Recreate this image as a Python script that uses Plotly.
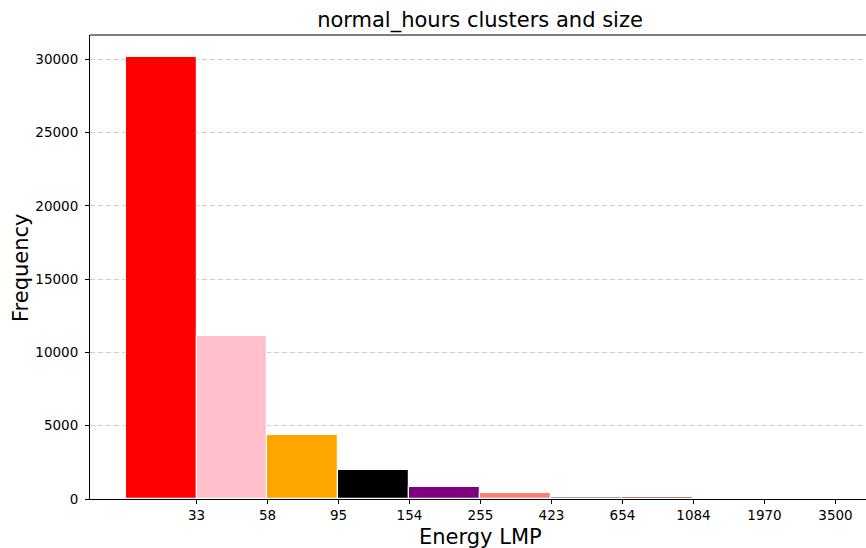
import plotly.graph_objects as go

tick_labels = ["33", "58", "95", "154", "255", "423", "654", "1084", "1970", "3500"]
counts = [30140, 11120, 4380, 1980, 810, 415, 115, 125, 8, 5]
colors = ["red", "pink", "orange", "black", "purple", "salmon", "gray", "sienna", "darkgreen", "navy"]
y_ticks = [0, 5000, 10000, 15000, 20000, 25000, 30000]

bar_x = [i + 0.5 for i in range(len(counts))]
tick_pos = [i + 1 for i in range(len(tick_labels))]

fig = go.Figure()
fig.add_trace(go.Bar(
    x=bar_x, y=counts, width=1.0,
    marker=dict(color=colors, line=dict(color="white", width=1.2)),
    showlegend=False,
))

font = "DejaVu Sans, sans-serif"
fig.update_layout(
    width=866, height=548,
    margin=dict(l=90, r=0, t=35, b=49),
    paper_bgcolor="white", plot_bgcolor="white",
    font=dict(family=font, color="black"),
    title=dict(text="normal_hours clusters and size", x=480/866, xanchor="center",
               y=1 - 20/548, yanchor="middle", font=dict(size=21, family=font, color="black")),
    bargap=0,
)
fig.update_xaxes(
    range=[-0.5, 10.43], tickmode="array", tickvals=tick_pos, ticktext=tick_labels,
    ticks="outside", ticklen=4, tickwidth=1, tickcolor="black",
    showline=True, linecolor="black", linewidth=1, showgrid=False, zeroline=False,
    tickfont=dict(size=13.5, family=font, color="black"), automargin=False,
)
fig.update_yaxes(
    range=[0, 31650], tickmode="array", tickvals=y_ticks, ticktext=[str(v) for v in y_ticks],
    ticks="outside", ticklen=4, tickwidth=1, tickcolor="black", ticklabelstandoff=4,
    showline=True, linecolor="black", linewidth=1, zeroline=False,
    showgrid=True, gridcolor="#cccccc", griddash="5px,3px", gridwidth=1,
    tickfont=dict(size=13.5, family=font, color="black"), automargin=False,
)
fig.add_shape(type="line", xref="paper", yref="paper", x0=0, x1=1, y0=1, y1=1,
              line=dict(color="black", width=1))
fig.add_annotation(text="Energy LMP", xref="paper", yref="paper", x=(480-90)/776, y=-(537-499)/464,
                   xanchor="center", yanchor="middle", showarrow=False,
                   font=dict(size=21, family=font, color="black"))
fig.add_annotation(text="Frequency", xref="paper", yref="paper", x=-(90-21)/776, y=(499-268)/464,
                   xanchor="center", yanchor="middle", showarrow=False, textangle=-90,
                   font=dict(size=21, family=font, color="black"))
fig.write_html("out.html", config={"displayModeBar": False},
               post_script="document.body.style.margin='0';")
